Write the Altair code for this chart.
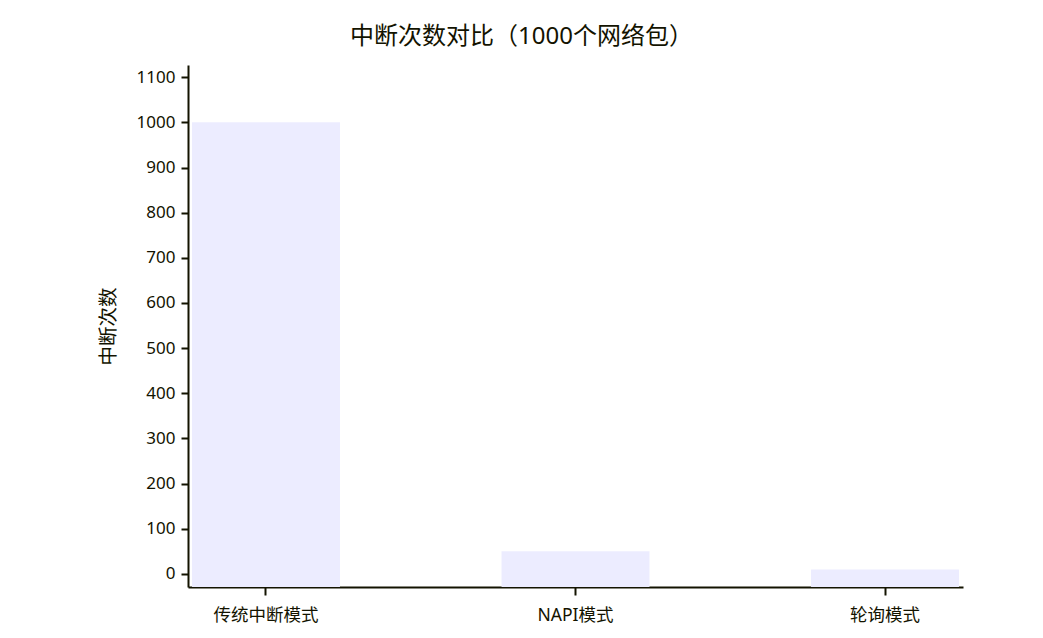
import altair as alt
import pandas as pd

categories = ["传统中断模式", "NAPI模式", "轮询模式"]
values = [1000, 50, 10]
y_ticks = [0, 100, 200, 300, 400, 500, 600, 700, 800, 900, 1000, 1100]

df = pd.DataFrame({"mode": categories, "count": values})

FONT = "Noto Sans, Noto Sans CJK SC"
INK = "#131300"

chart = alt.Chart(df).mark_bar(color="#ECECFF").encode(
    x=alt.X(
        "mode:N",
        sort=categories,
        scale=alt.Scale(paddingInner=0.522, paddingOuter=0.013),
        axis=alt.Axis(
            title=None,
            labelAngle=0,
            labelFontSize=17.5,
            labelPadding=11,
            tickSize=8,
            tickWidth=2,
            domainWidth=2,
        ),
    ),
    y=alt.Y(
        "count:Q",
        scale=alt.Scale(domain=[-29, 1127], nice=False, zero=False),
        axis=alt.Axis(
            title="中断次数",
            values=y_ticks,
            format="d",
            labelFontSize=17,
            labelPadding=6,
            tickSize=7,
            tickWidth=2,
            domainWidth=2,
            grid=False,
            titleFontSize=19.5,
            titleFontWeight="normal",
            titleX=-80,
            titleY=261,
            titleAngle=-90,
            titleAlign="center",
            titleBaseline="middle",
        ),
    ),
    y2=alt.Y2(datum=-29),
).properties(
    width=775,
    height=522,
    title=alt.TitleParams(
        "中断次数对比（1000个网络包）",
        fontSize=24,
        fontWeight="normal",
        color=INK,
        font=FONT,
        anchor="middle",
        dx=-54,
        offset=16,
    ),
    autosize=alt.AutoSizeParams(type="none"),
    padding={"left": 180, "top": 57, "right": 72, "bottom": 43},
).configure_view(
    stroke=None
).configure_axis(
    labelFont=FONT,
    titleFont=FONT,
    labelColor=INK,
    titleColor=INK,
    domainColor=INK,
    tickColor=INK,
)

chart.save("out.html", embed_options={"renderer": "svg", "actions": False})
